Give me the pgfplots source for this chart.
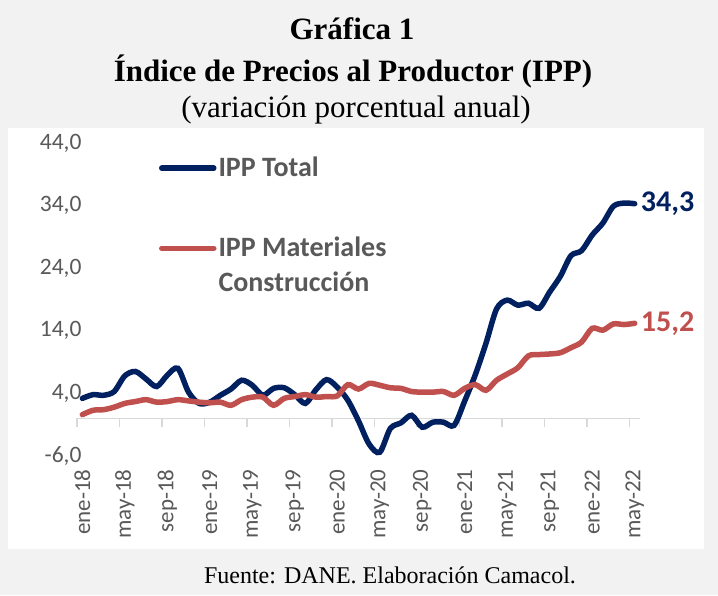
\documentclass[border=0pt]{standalone}
\usepackage{fontspec}
\setmainfont{Liberation Serif}
\newfontfamily\calibri{Carlito}
\usepackage{pgfplots}
\usepackage{pgfplotstable}
\pgfplotsset{compat=1.18}

\definecolor{bgc}{HTML}{F2F2F2}
\definecolor{ippblue}{HTML}{002060}
\definecolor{ippred}{HTML}{C0504D}
\definecolor{txtgray}{HTML}{595959}
\definecolor{axgray}{HTML}{D9D9D9}

% m = month index (0 = ene-18)
\pgfplotstableread{
m  total  mat
0   3.2   0.6
1   3.8   1.3
2   3.7   1.4
3   4.3   1.8
4   6.8   2.4
5   7.5   2.7
6   6.3   3.0
7   5.1   2.6
8   6.9   2.7
9   8.0   3.0
10  4.2   2.8
11  2.4   2.6
12  2.6   2.5
13  3.7   2.6
14  4.7   2.1
15  6.1   3.0
16  5.3   3.4
17  3.7   3.4
18  4.8   2.1
19  4.9   3.2
20  3.8   3.5
21  2.4   3.8
22  4.6   3.4
23  6.2   3.5
24  5.0   3.6
25  2.9   5.4
26 -0.4   4.7
27 -4.1   5.6
28 -5.4   5.3
29 -1.6   4.9
30 -0.7   4.8
31  0.5   4.3
32 -1.4   4.2
33 -0.6   4.2
34 -0.6   4.3
35 -1.1   3.7
36  2.8   4.8
37  7.0   5.4
38 12.0   4.5
39 17.5   6.1
40 18.9   7.1
41 18.1   8.1
42 18.4  10.0
43 17.6  10.2
44 20.2  10.3
45 22.7  10.5
46 26.0  11.3
47 26.8  12.2
48 29.3  14.4
49 31.2  14.1
50 33.9  15.1
51 34.4  15.0
52 34.3  15.2
}\ipp

\begin{document}
\begin{tikzpicture}[x=1pt,y=1pt]
\fill[bgc] (0,0) rectangle (718,595);
\fill[white] (8,46) rectangle (704,467);

\node[anchor=base, font=\fontsize{31}{36}\selectfont\bfseries] at (352,555) {Gráfica 1};
\node[anchor=base, font=\fontsize{31}{36}\selectfont\bfseries] at (353,513) {Índice de Precios al Productor (IPP)};
\node[anchor=base, font=\fontsize{31}{36}\selectfont] at (356,477) {(variación porcentual anual)};
\node[anchor=base, font=\fontsize{24}{28}\selectfont] at (390,12) {Fuente: DANE. Elaboración Camacol.};

\begin{axis}[
    at={(77pt,139pt)}, anchor=south west,
    scale only axis, width=563pt, height=313pt,
    xmin=-0.5, xmax=52.5, ymin=-6, ymax=44,
    clip=false,
    axis x line*=bottom, axis y line*=left,
    axis line style={draw=none}, tick style={draw=none},
    ytick={-6,4,...,44},
    yticklabel style={xshift=8pt, font=\calibri\fontsize{23.5}{27}\selectfont, text=txtgray,
        /pgf/number format/.cd, fixed, fixed zerofill, precision=1, use comma, assume math mode=true},
    xtick={0,4,...,52},
    xticklabels={ene-18,may-18,sep-18,ene-19,may-19,sep-19,ene-20,may-20,sep-20,ene-21,may-21,sep-21,ene-22,may-22},
    xticklabel style={yshift=-10pt, rotate=90, anchor=east, font=\calibri\fontsize{23}{27}\selectfont, text=txtgray},
    legend image code/.code={\path (0pt,0pt); \draw[#1] (0pt,-14pt) -- (52pt,-14pt);},
    legend style={at={(0.14,0.98)}, anchor=north west, draw=none, fill=none,
        font=\calibri\bfseries\fontsize{28}{35}\selectfont, text=txtgray,
        cells={anchor=north west, align=left}, row sep=52pt,
        /tikz/every even column/.append style={column sep=2pt}},
]
\draw[axgray, line width=1.5pt] (axis cs:-0.5,0) -- (axis cs:52.5,0);
\pgfplotsinvokeforeach{-0.5,3.5,...,51.5}{
  \draw[axgray, line width=1.5pt] (axis cs:#1,0) -- ++(0pt,-9pt);
}
\addplot[ippblue, line width=5.5pt, line cap=round, smooth, tension=0.5] table[x=m, y=total] {\ipp};
\addlegendentry{IPP Total}
\addplot[ippred, line width=5.5pt, line cap=round, smooth, tension=0.5] table[x=m, y=mat] {\ipp};
\addlegendentry{IPP Materiales\\Construcción}
\node[anchor=west, inner sep=1pt, xshift=5pt, text=ippblue, font=\calibri\bfseries\fontsize{30}{36}\selectfont] at (axis cs:52,34.3) {34,3};
\node[anchor=west, inner sep=1pt, xshift=5pt, text=ippred, font=\calibri\bfseries\fontsize{30}{36}\selectfont] at (axis cs:52,15.2) {15,2};
\end{axis}
\end{tikzpicture}
\end{document}
